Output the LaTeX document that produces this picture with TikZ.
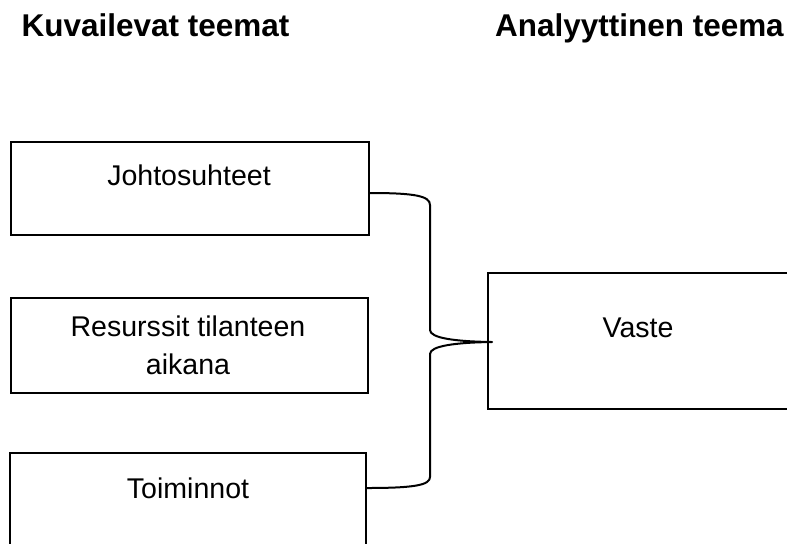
\documentclass[tikz,border=0pt]{standalone}
\usepackage{fontspec}
\setmainfont{Liberation Sans}
\usetikzlibrary{calc}
\begin{document}
\begin{tikzpicture}[x=0.75pt,y=-0.75pt,
  box/.style={draw=black,line width=1.5pt,rectangle,inner sep=0pt,anchor=north west},
  lbl/.style={anchor=base,inner sep=0pt,font=\fontsize{21.4pt}{28.5pt}\selectfont},
  ttl/.style={anchor=base,inner sep=0pt,font=\fontsize{23.6pt}{28pt}\selectfont\bfseries},
  brace/.style={draw=black,line width=1.5pt,line join=round}]
\useasboundingbox (0,0) rectangle (787,543);
\clip (0,0) rectangle (787,543);
% titles
\node[ttl] (t1) at (155.5,36) {Kuvailevat teemat};
\node[ttl] (t2) at (639.5,36) {Analyyttinen teema};
% boxes
\node[box,minimum width=358*0.75pt,minimum height=93*0.75pt] (j) at (10,141) {};
\node[box,minimum width=357*0.75pt,minimum height=95*0.75pt] (r) at (10,297) {};
\node[box,minimum width=356*0.75pt,minimum height=120*0.75pt] (t) at (9,452) {};
\node[box,minimum width=320*0.75pt,minimum height=136*0.75pt] (v) at (487,272) {};
% labels
\node[lbl] (jl) at (189,185) {Johtosuhteet};
\node[lbl] (rl1) at (188,336) {Resurssit tilanteen};
\node[lbl] (rl2) at (188,374) {aikana};
\node[lbl] (tl) at (188,498) {Toiminnot};
\node[lbl] (vl) at (638,337) {Vaste};
% brace
\coordinate (b1) at ($(j.north east)+(0,52)$);
\coordinate (b3) at ($(t.north east)+(0,36)$);
\coordinate (tip) at ($(v.north west)+(5,70)$);
\draw[brace] (b1) .. controls (415,193) and (430,196) .. (430,205)
  -- (430,330) .. controls (430,338) and (455,341.5) .. (tip)
  .. controls (455,342.5) and (430,346) .. (430,354)
  -- (430,477) .. controls (430,485) and (415,488) .. (b3);
\end{tikzpicture}
\end{document}
